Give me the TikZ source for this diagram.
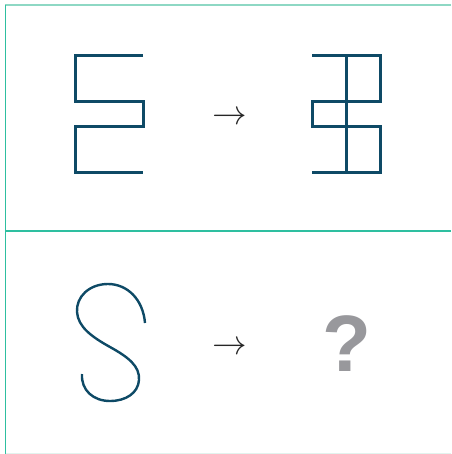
\documentclass[tikz,border=0pt]{standalone}
\usepackage{fontspec}
\newfontfamily\qfont{Liberation Sans}
\usetikzlibrary{positioning}
\definecolor{Petrol}{HTML}{0E4A66}
\definecolor{Mint}{HTML}{2EBFA0}
\definecolor{MintPale}{HTML}{8ED8C4}
\definecolor{Haze}{HTML}{E2F3EE}
\definecolor{Ash}{HTML}{98989C}
\begin{document}
\begin{tikzpicture}[x=0.5pt,y=-0.5pt,
glyph/.style={draw=Petrol,line width=1.5pt,line join=miter},
curve/.style={draw=Petrol,line width=1.2pt},
maps/.style={inner sep=0pt,text=black!85,font=\fontsize{16}{18}\selectfont},
query/.style={inner sep=0pt,text=Ash,font=\qfont\bfseries\fontsize{40}{44}\selectfont}]
\useasboundingbox (0,0) rectangle (451,454);
% panel frame
\draw[MintPale,line width=0.8pt](5,5)--(451,5);
\draw[Mint,line width=0.8pt](5.5,5)--(5.5,454);
\draw[Haze,line width=0.5pt](5.5,453)--(451,453);
\draw[Mint,line width=1.1pt](5.5,231)--(451,231);
% top row
\draw[glyph](143,56)--(75,56)--(75,102)--(143,102)--(143,127)--(75,127)--(75,173)--(143,173);
\node[maps](arrowA) at (229.5,118){$\rightarrow$};
\draw[glyph](312,56)--(380,56)--(380,102)--(312,102)--(312,127)--(380,127)--(380,173)--(312,173);
\draw[glyph](346,56)--(346,173);
% bottom row
\draw[curve](145,323) .. controls (143,299) and (127,284) .. (108,284)
 .. controls (89,284) and (76,297) .. (77,312)
 .. controls (78,327) and (92,337) .. (110,347)
 .. controls (128,357) and (140,366) .. (139,380)
 .. controls (138,393) and (126,401) .. (110,401)
 .. controls (93,401) and (81,390) .. (82,374);
\node[maps](arrowB) at (229.5,348.5){$\rightarrow$};
\node[query,anchor=base](query) at (346.5,371){?};
\end{tikzpicture}
\end{document}
